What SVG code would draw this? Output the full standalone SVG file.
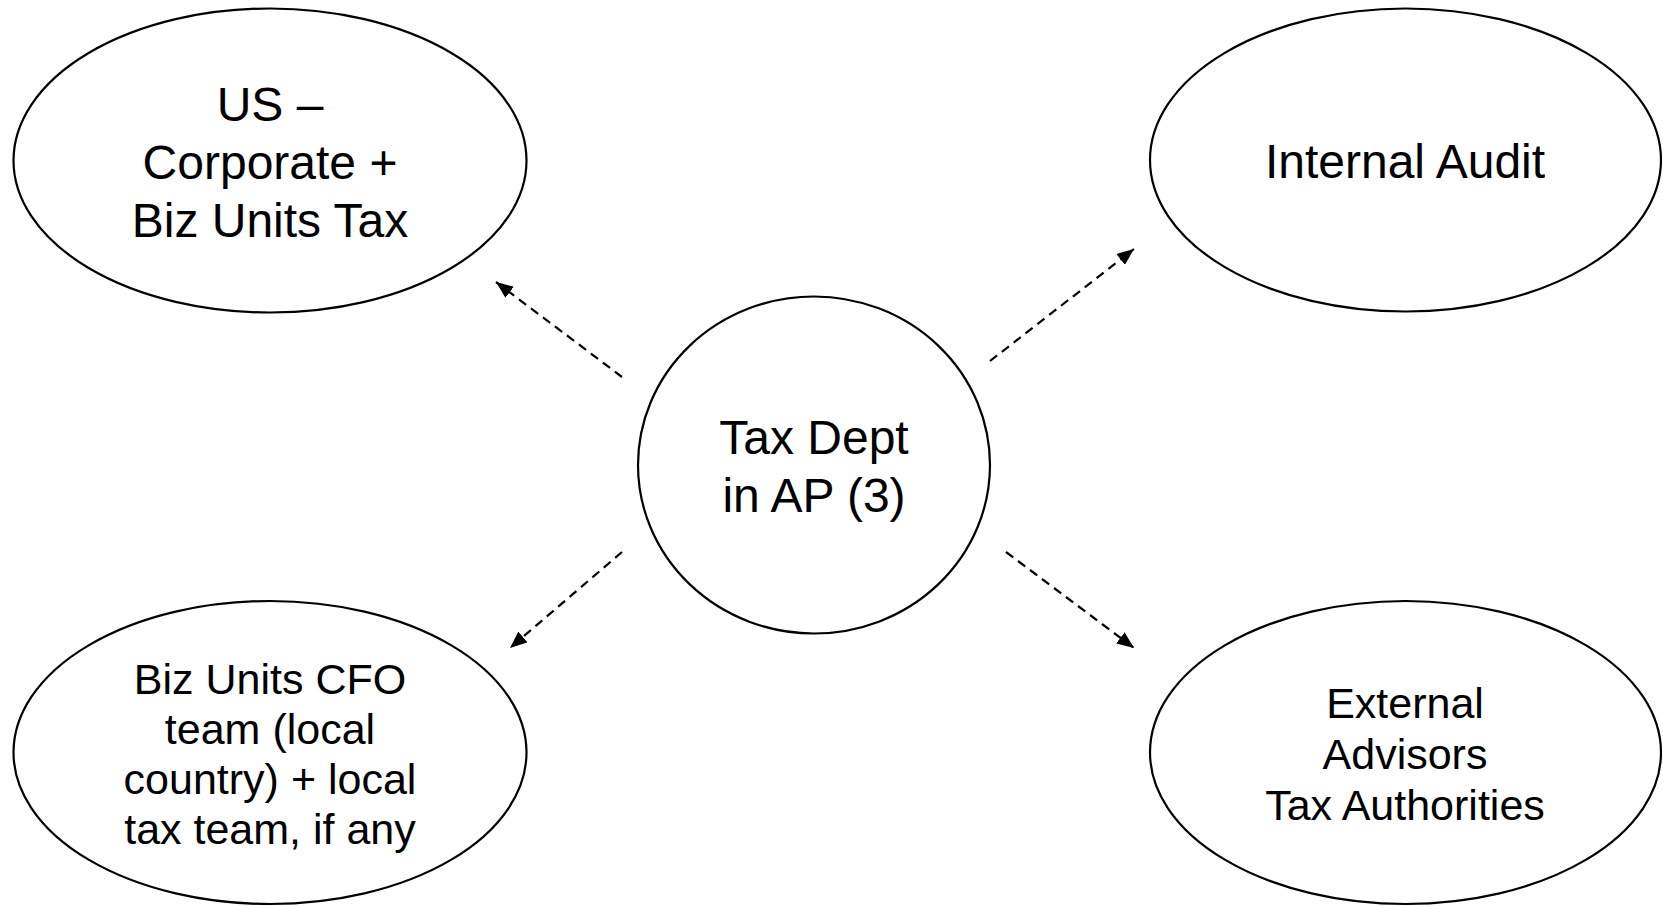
<svg xmlns="http://www.w3.org/2000/svg" width="1663" height="906" viewBox="0 0 1663 906">
<style>
.n{fill:#fff;stroke:#000;stroke-width:2.2}
.t{font-family:"Liberation Sans",Arial,sans-serif;fill:#000;text-anchor:middle}
.big{font-size:48px}
.sm{font-size:43px}
.c{stroke:#000;stroke-width:2.2;stroke-dasharray:9 6;fill:none;marker-end:url(#ah)}
</style>
<defs>
<marker id="ah" markerUnits="userSpaceOnUse" markerWidth="18" markerHeight="14" refX="17" refY="7" orient="auto">
<path d="M0,0 L17,7 L0,14 Z" fill="#000"/>
</marker>
</defs>
<rect width="1663" height="906" fill="#fff"/>
<g id="connectors">
<line class="c" x1="622" y1="377" x2="496" y2="282"/>
<line class="c" x1="990" y1="361" x2="1134" y2="249"/>
<line class="c" x1="622" y1="552" x2="510" y2="648"/>
<line class="c" x1="1006" y1="552" x2="1134" y2="648"/>
</g>
<g id="us-corporate">
<ellipse class="n" cx="270" cy="160.5" rx="256.5" ry="152"/>
<text class="t big" x="270" y="121">US –</text>
<text class="t big" x="270" y="179">Corporate +</text>
<text class="t big" x="270" y="237">Biz Units Tax</text>
</g>
<g id="internal-audit">
<ellipse class="n" cx="1405.5" cy="160" rx="255.5" ry="151.5"/>
<text class="t big" x="1405" y="178">Internal Audit</text>
</g>
<g id="biz-units-cfo">
<ellipse class="n" cx="270" cy="752.5" rx="256.5" ry="151.5"/>
<text class="t sm" x="270" y="694">Biz Units CFO</text>
<text class="t sm" x="270" y="744">team (local</text>
<text class="t sm" x="270" y="794">country) + local</text>
<text class="t sm" x="270" y="844">tax team, if any</text>
</g>
<g id="external-advisors">
<ellipse class="n" cx="1405.5" cy="752.5" rx="255.5" ry="151.5"/>
<text class="t sm" x="1405" y="718">External</text>
<text class="t sm" x="1405" y="769">Advisors</text>
<text class="t sm" x="1405" y="820">Tax Authorities</text>
</g>
<g id="tax-dept">
<ellipse class="n" cx="814" cy="465" rx="176" ry="168.5"/>
<text class="t big" x="814" y="454">Tax Dept</text>
<text class="t big" x="814" y="511.5">in AP (3)</text>
</g>
</svg>
